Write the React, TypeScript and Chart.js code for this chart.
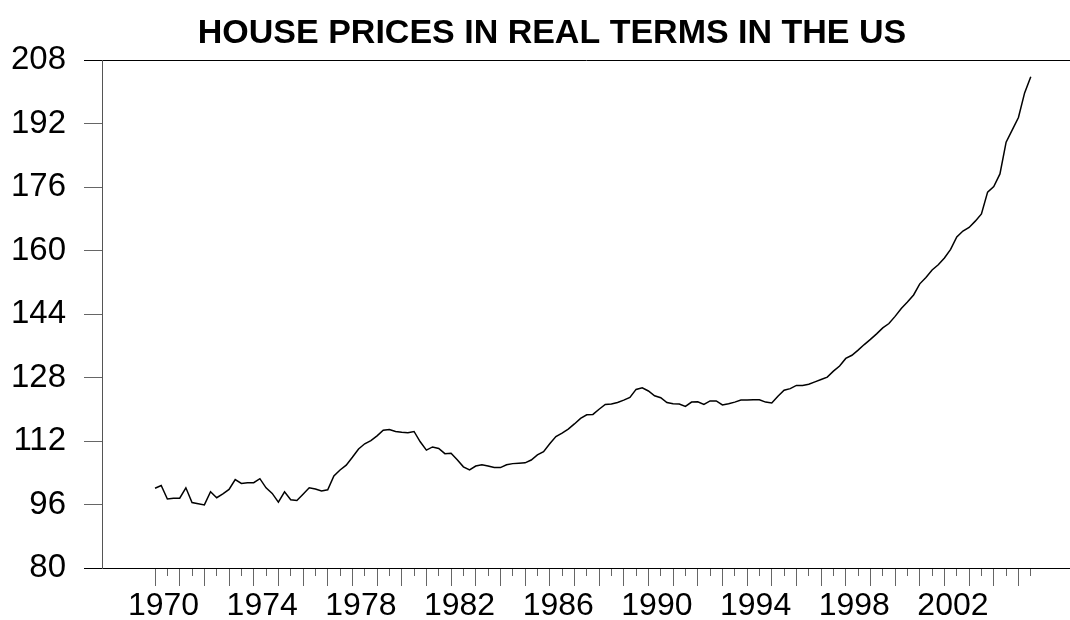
import React, { useEffect, useRef } from 'react';
import { Chart, registerables } from 'chart.js';

Chart.register(...registerables);

const TITLE = 'HOUSE PRICES IN REAL TERMS IN THE US';
const START_YEAR = 1970; // first observation: 1970Q1, quarterly data

const prices1970s = [
  100.1, 100.8, 97.4, 97.6,
  97.6, 100.2, 96.5, 96.2,
  95.9, 99.2, 97.7, 98.7,
  99.8, 102.3, 101.3, 101.5,
  101.5, 102.5, 100.2, 98.8,
  96.6, 99.2, 97.2, 97.0,
  98.6, 100.2, 99.9, 99.4,
  99.7, 103.2, 104.7, 105.9,
  107.9, 110.0, 111.3, 112.1,
  113.3, 114.7, 114.9, 114.4,
];
const prices1980s = [
  114.2, 114.1, 114.4, 111.8,
  109.7, 110.5, 110.1, 108.8,
  108.9, 107.3, 105.5, 104.7,
  105.7, 106.0, 105.7, 105.3,
  105.3, 106.0, 106.3, 106.4,
  106.5, 107.2, 108.5, 109.3,
  111.3, 113.1, 114.0, 115.0,
  116.3, 117.7, 118.6, 118.7,
  120.0, 121.2, 121.3, 121.7,
  122.3, 123.0, 125.0, 125.4,
];
const prices1990s = [
  124.6, 123.4, 122.9, 121.7,
  121.4, 121.3, 120.7, 121.8,
  121.9, 121.2, 122.1, 122.1,
  121.1, 121.4, 121.8, 122.3,
  122.3, 122.4, 122.4, 121.8,
  121.6, 123.3, 124.8, 125.2,
  126.0, 126.0, 126.3, 126.9,
  127.5, 128.1, 129.6, 130.9,
  132.8, 133.6, 134.9, 136.3,
  137.6, 139.0, 140.5, 141.6,
];
const prices2000s = [
  143.4, 145.4, 147.0, 148.8,
  151.6, 153.2, 155.1, 156.4,
  158.1, 160.3, 163.4, 164.9,
  165.8, 167.4, 169.2, 174.7,
  176.1, 179.3, 187.3, 190.4,
  193.5, 199.7, 203.8,
];

const yTickValues = [80, 96, 112, 128, 144, 160, 176, 192, 208];
const xLabelYears = [1970, 1974, 1978, 1982, 1986, 1990, 1994, 1998, 2002];
const xTickValues = [
  1970, 1970.5, 1971, 1971.5, 1972, 1972.5, 1973, 1973.5, 1974, 1974.5,
  1975, 1975.5, 1976, 1976.5, 1977, 1977.5, 1978, 1978.5, 1979, 1979.5,
  1980, 1980.5, 1981, 1981.5, 1982, 1982.5, 1983, 1983.5, 1984, 1984.5,
  1985, 1985.5, 1986, 1986.5, 1987, 1987.5, 1988, 1988.5, 1989, 1989.5,
  1990, 1990.5, 1991, 1991.5, 1992, 1992.5, 1993, 1993.5, 1994, 1994.5,
  1995, 1995.5, 1996, 1996.5, 1997, 1997.5, 1998, 1998.5, 1999, 1999.5,
  2000, 2000.5, 2001, 2001.5, 2002, 2002.5, 2003, 2003.5, 2004, 2004.5,
  2005, 2005.5,
];

const FONT_FAMILY = "'Liberation Sans', Arial, Helvetica, sans-serif";

// Title drawn by a small inline plugin so it can sit slightly left of the plot centre
const titlePlugin = {
  id: 'offsetTitle',
  afterDraw(chart: any) {
    const { ctx, chartArea } = chart;
    ctx.save();
    ctx.font = `bold 34px ${FONT_FAMILY}`;
    ctx.fillStyle = '#000000';
    ctx.textAlign = 'center';
    ctx.textBaseline = 'middle';
    ctx.fillText(TITLE, (chartArea.left + chartArea.right) / 2 - 34, 34);
    ctx.restore();
  },
};

export default function App() {
  const canvasRef = useRef<HTMLCanvasElement>(null);

  useEffect(() => {
    if (!canvasRef.current) return;
    const values = [...prices1970s, ...prices1980s, ...prices1990s, ...prices2000s];
    const points = values.map((v, i) => ({ x: START_YEAR + i / 4, y: v }));

    const isEnd = (ctx: any) => {
      const v = ctx && ctx.tick ? ctx.tick.value : undefined;
      return v === 80 || v === 208;
    };

    const chart = new Chart(canvasRef.current, {
      type: 'line',
      data: {
        datasets: [
          {
            label: 'House prices',
            data: points,
            borderColor: '#000000',
            borderWidth: 1.5,
            pointRadius: 0,
            tension: 0,
            fill: false,
          },
        ],
      },
      options: {
        animation: false,
        responsive: false,
        events: [],
        layout: { padding: { top: 60, left: 0, right: 0, bottom: 0 } },
        plugins: {
          legend: { display: false },
          tooltip: { enabled: false },
          title: { display: false },
        },
        scales: {
          x: {
            type: 'linear',
            min: 1967.85,
            max: 2007.09,
            afterBuildTicks: (scale: any) => {
              scale.ticks = xTickValues.map((v) => ({ value: v }));
            },
            afterFit: (scale: any) => {
              scale.height = 52;
            },
            ticks: {
              autoSkip: false,
              maxRotation: 0,
              minRotation: 0,
              padding: 1,
              labelOffset: 8.5,
              color: '#000000',
              font: { family: FONT_FAMILY, size: 32 },
              callback: (v: any) => (xLabelYears.includes(Number(v)) ? String(v) : ''),
            },
            grid: {
              drawOnChartArea: false,
              drawTicks: true,
              tickLength: 18,
              tickColor: '#666666',
              tickWidth: 1,
              tickBorderDash: (ctx: any) =>
                ctx && ctx.tick && Number.isInteger(ctx.tick.value) ? [] : [8, 40],
            },
            border: { display: false },
          },
          y: {
            type: 'linear',
            min: 80,
            max: 208,
            afterBuildTicks: (scale: any) => {
              scale.ticks = yTickValues.map((v) => ({ value: v }));
            },
            afterFit: (scale: any) => {
              scale.width = 102;
            },
            ticks: {
              padding: 18,
              color: '#000000',
              font: { family: FONT_FAMILY, size: 33 },
            },
            grid: {
              drawOnChartArea: true,
              drawTicks: true,
              tickLength: 18,
              lineWidth: 1,
              tickWidth: 1,
              color: (ctx: any) => (isEnd(ctx) ? '#000000' : 'rgba(0,0,0,0)'),
              tickColor: (ctx: any) => (isEnd(ctx) ? '#000000' : '#666666'),
            },
            border: { display: true, color: '#555555', width: 1 },
          },
        },
      },
      plugins: [titlePlugin],
    } as any);

    return () => chart.destroy();
  }, []);

  return (
    <div style={{ position: 'absolute', left: 0, top: 0, width: 1070, height: 620, background: '#ffffff' }}>
      <canvas ref={canvasRef} width={1070} height={620} style={{ display: 'block' }} />
    </div>
  );
}
